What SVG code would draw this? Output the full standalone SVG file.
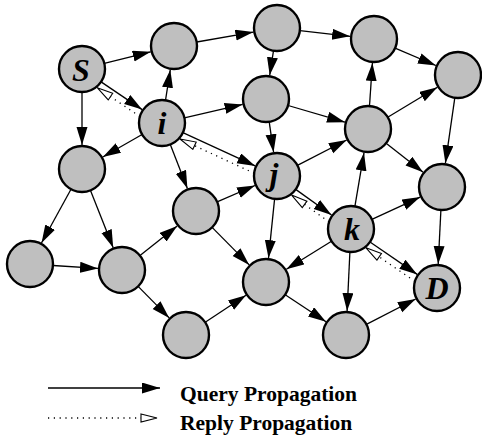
<svg xmlns="http://www.w3.org/2000/svg" width="482" height="436" viewBox="0 0 482 436">
<style>
.n{fill:#bfbfbf;stroke:#000;stroke-width:2.4}
.q{stroke:#000;stroke-width:1.3;fill:none;marker-end:url(#fa)}
.r{stroke:#000;stroke-width:1.3;fill:none;stroke-dasharray:1.2 4.6;marker-end:url(#oa)}
.lb{font-family:"Liberation Serif","Times New Roman",serif;font-weight:bold;font-style:italic;font-size:32px;text-anchor:middle;fill:#000}
.lg{font-family:"Liberation Serif","Times New Roman",serif;font-weight:bold;font-size:21.5px;fill:#000}
</style>
<defs>
<marker id="fa" markerUnits="userSpaceOnUse" markerWidth="20" markerHeight="12" refX="18" refY="5.5" orient="auto" viewBox="0 0 20 12">
<path d="M0,0 L18,5.5 L0,11 z" fill="#000"/>
</marker>
<marker id="oa" markerUnits="userSpaceOnUse" markerWidth="20" markerHeight="12" refX="17" refY="5" orient="auto" viewBox="0 0 20 12">
<path d="M1,1 L17,5 L1,9 z" fill="#fff" stroke="#000" stroke-width="1.1"/>
</marker>
</defs>
<g id="connectors">
<line class="q" x1="104.3" y1="63.4" x2="150.7" y2="51.8"/>
<line class="q" x1="101.1" y1="81.9" x2="142.1" y2="109.6"/>
<line class="r" x1="139.9" y1="116.5" x2="97.2" y2="87.7"/>
<line class="q" x1="82" y1="92" x2="82" y2="145"/>
<line class="q" x1="165.5" y1="100.3" x2="170.3" y2="69.7"/>
<line class="q" x1="184.4" y1="117.8" x2="242.6" y2="104.4"/>
<line class="q" x1="142.1" y1="134.5" x2="102.8" y2="157"/>
<line class="q" x1="170.3" y1="144.5" x2="187.4" y2="188.6"/>
<line class="q" x1="182.9" y1="132.6" x2="255.2" y2="165.9"/>
<line class="r" x1="254.1" y1="173.2" x2="180" y2="139"/>
<line class="q" x1="196.7" y1="42" x2="253.4" y2="32.1"/>
<line class="q" x1="299.9" y1="30.6" x2="350.1" y2="36.3"/>
<line class="q" x1="273.5" y1="50.7" x2="269.7" y2="75.3"/>
<line class="q" x1="395.1" y1="48.1" x2="435.9" y2="65.5"/>
<line class="q" x1="288.1" y1="105.5" x2="345" y2="122.2"/>
<line class="q" x1="269.2" y1="121.8" x2="273.6" y2="152.2"/>
<line class="q" x1="369.5" y1="106" x2="372.4" y2="63"/>
<line class="q" x1="387.7" y1="117.2" x2="437.4" y2="87.3"/>
<line class="q" x1="386.1" y1="143.2" x2="423.1" y2="172.2"/>
<line class="q" x1="454.8" y1="97.8" x2="445.4" y2="163.2"/>
<line class="q" x1="297.4" y1="165.4" x2="346.7" y2="140"/>
<line class="q" x1="295.7" y1="189.4" x2="331.5" y2="215"/>
<line class="r" x1="329" y1="221.9" x2="291.6" y2="195.1"/>
<line class="q" x1="274.6" y1="198.9" x2="268.5" y2="258.1"/>
<line class="q" x1="354.9" y1="206.3" x2="364" y2="152.7"/>
<line class="q" x1="371.9" y1="219.4" x2="420.2" y2="197.1"/>
<line class="q" x1="331.5" y1="241.2" x2="286.4" y2="269.3"/>
<line class="q" x1="349.9" y1="252" x2="347.1" y2="311"/>
<line class="q" x1="370" y1="242" x2="417.2" y2="274.4"/>
<line class="r" x1="414.8" y1="281.3" x2="366" y2="247.8"/>
<line class="q" x1="440.9" y1="210" x2="438.2" y2="264"/>
<line class="q" x1="285.2" y1="294.7" x2="326" y2="321.8"/>
<line class="q" x1="366.4" y1="324.4" x2="415.7" y2="299"/>
<line class="q" x1="71" y1="189.2" x2="41.5" y2="243"/>
<line class="q" x1="90.5" y1="190.4" x2="113.2" y2="247.7"/>
<line class="q" x1="53" y1="265.5" x2="98" y2="268.4"/>
<line class="q" x1="140" y1="255.6" x2="177.2" y2="226"/>
<line class="q" x1="138.1" y1="286.4" x2="169.2" y2="317.9"/>
<line class="q" x1="217.1" y1="201.9" x2="255" y2="185.5"/>
<line class="q" x1="212.1" y1="227.4" x2="249.2" y2="264.9"/>
<line class="q" x1="205.2" y1="322.3" x2="246" y2="295.2"/>
</g>
<g id="S"><circle class="n" cx="82" cy="69" r="23"/><text class="lb" x="81" y="81">S</text></g>
<g id="n1"><circle class="n" cx="174" cy="46" r="23"/></g>
<g id="i"><circle class="n" cx="162" cy="123" r="23"/><text class="lb" x="162" y="134">i</text></g>
<g id="n2"><circle class="n" cx="82" cy="169" r="23"/></g>
<g id="n3"><circle class="n" cx="277" cy="28" r="23"/></g>
<g id="n4"><circle class="n" cx="374" cy="39" r="23"/></g>
<g id="n5"><circle class="n" cx="458" cy="75" r="23"/></g>
<g id="n6"><circle class="n" cx="266" cy="99" r="23"/></g>
<g id="n7"><circle class="n" cx="368" cy="129" r="23"/></g>
<g id="j"><circle class="n" cx="277" cy="176" r="23"/><text class="lb" x="274" y="185">j</text></g>
<g id="n8"><circle class="n" cx="442" cy="187" r="23"/></g>
<g id="k"><circle class="n" cx="351" cy="229" r="23"/><text class="lb" x="352" y="240">k</text></g>
<g id="D"><circle class="n" cx="437" cy="288" r="23"/><text class="lb" x="437" y="299">D</text></g>
<g id="n9"><circle class="n" cx="266" cy="282" r="23"/></g>
<g id="n10"><circle class="n" cx="346" cy="335" r="23"/></g>
<g id="n11"><circle class="n" cx="30" cy="264" r="23"/></g>
<g id="n12"><circle class="n" cx="122" cy="270" r="23"/></g>
<g id="n13"><circle class="n" cx="196" cy="211" r="23"/></g>
<g id="n14"><circle class="n" cx="186" cy="335" r="23"/></g>
<g id="legend">
<line class="q" x1="48" y1="388" x2="160" y2="388"/>
<line class="r" x1="48" y1="418" x2="157" y2="418"/>
<text class="lg" x="180" y="401">Query Propagation</text>
<text class="lg" x="180" y="430">Reply Propagation</text>
</g>
</svg>
